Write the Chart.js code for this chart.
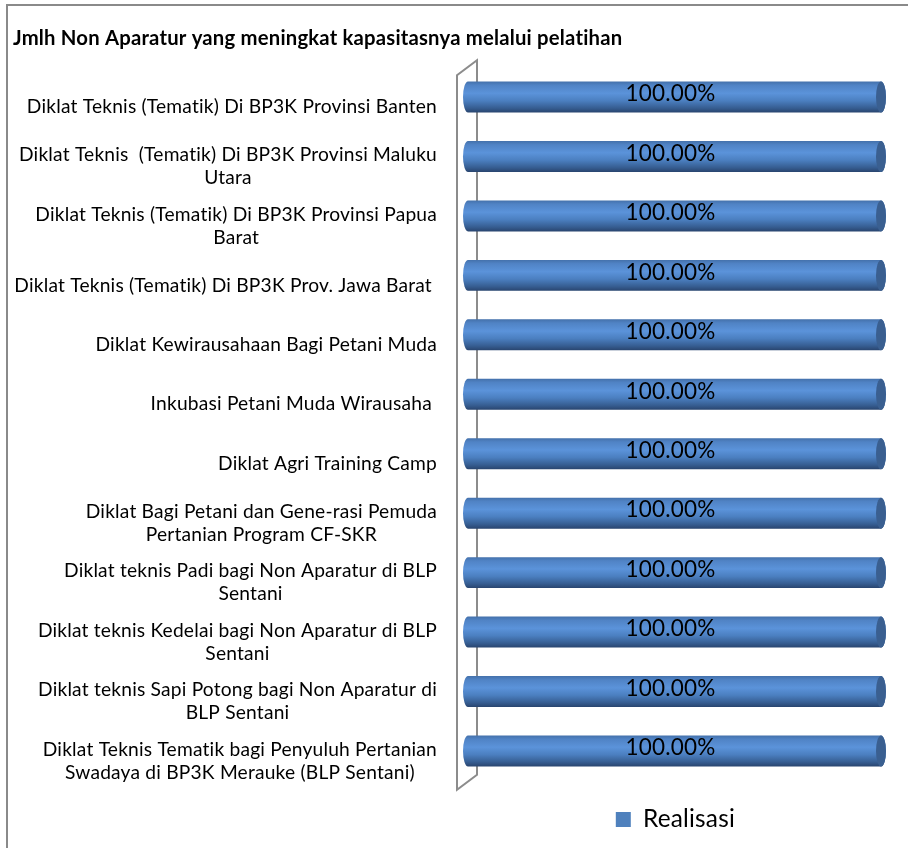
<!DOCTYPE html>
<html>
<head>
<meta charset="utf-8">
<script src="https://cdn.jsdelivr.net/npm/chart.js@4.4.1/dist/chart.umd.min.js"></script>
<style>
  html, body { margin: 0; padding: 0; background: #fff; overflow: hidden; }
  #wrap { position: relative; width: 908px; height: 848px; overflow: hidden; }
  #frame { position: absolute; left: 6px; top: 4px; width: 1000px; height: 1000px; border: 2px solid #8a8a8a; }
  #chart { position: absolute; left: 0; top: 0; }
</style>
</head>
<body>
<div id="wrap"><div id="frame"></div><canvas id="chart" width="908" height="848"></canvas></div>
<script>
(function () {
    'use strict';

    var titleText = 'Jmlh Non Aparatur yang meningkat kapasitasnya melalui pelatihan';
    var seriesName = 'Realisasi';
    var categories = [
        'Diklat Teknis (Tematik) Di BP3K Provinsi Banten',
        ['Diklat Teknis  (Tematik) Di BP3K Provinsi Maluku', 'Utara'],
        ['Diklat Teknis (Tematik) Di BP3K Provinsi Papua', 'Barat'],
        'Diklat Teknis (Tematik) Di BP3K Prov. Jawa Barat ',
        'Diklat Kewirausahaan Bagi Petani Muda',
        'Inkubasi Petani Muda Wirausaha ',
        'Diklat Agri Training Camp',
        ['Diklat Bagi Petani dan Gene-rasi Pemuda', 'Pertanian Program CF-SKR'],
        ['Diklat teknis Padi bagi Non Aparatur di BLP', 'Sentani'],
        ['Diklat teknis Kedelai bagi Non Aparatur di BLP', 'Sentani'],
        ['Diklat teknis Sapi Potong bagi Non Aparatur di', 'BLP Sentani'],
        ['Diklat Teknis Tematik bagi Penyuluh Pertanian', 'Swadaya di BP3K Merauke (BLP Sentani)']
    ];
    var realisasi = [100, 100, 100, 100, 100, 100, 100, 100, 100, 100, 100, 100];

    var FONT = 'Lato, "Open Sans", sans-serif';
    var SPACING = '0.2px'; // non-zero spacing keeps Lato from using its "ti" ligature

    // pick sizes so text widths match the picture
    function fitSize(text, weight, target) {
        var c = document.createElement('canvas').getContext('2d');
        c.letterSpacing = SPACING;
        c.font = weight + ' 100px ' + FONT;
        var w = c.measureText(text).width;
        return Math.round(1000 * (target - 0.2 * text.length) / (w - 0.2 * text.length)) / 10;
    }
    var labelSize = fitSize('Diklat Kewirausahaan Bagi Petani Muda', 'normal', 342);
    var titleSize = fitSize(titleText, 'bold', 609);
    var valueSize = fitSize('100.00%', 'normal', 90);
    var legendSize = fitSize(seriesName, 'normal', 92);

    var spacing = {
        id: 'spacing',
        beforeDraw: function (chart) { chart.ctx.letterSpacing = SPACING; }
    };

    var wall = {
        id: 'wall',
        beforeDatasetsDraw: function (chart) {
            var a = chart.chartArea, ctx = chart.ctx;
            ctx.save();
            ctx.strokeStyle = '#8c8c8c';
            ctx.lineWidth = 2;
            ctx.beginPath();
            ctx.moveTo(a.left - 6, a.bottom + 9);
            ctx.lineTo(a.left - 6, a.top + 8);
            ctx.lineTo(a.left + 14, a.top - 7);
            ctx.lineTo(a.left + 14, a.bottom - 6);
            ctx.closePath();
            ctx.stroke();
            ctx.restore();
        }
    };

    var cylinders = {
        id: 'cylinders',
        beforeDatasetDraw: function () { return false; },
        afterDatasetsDraw: function (chart) {
            var ctx = chart.ctx;
            var ds = chart.data.datasets[0];
            ctx.save();
            chart.getDatasetMeta(0).data.forEach(function (bar, i) {
                var p = bar.getProps(['x', 'y', 'base', 'height'], true);
                var h = p.height / 2, rx = 5, top = p.y - h, bot = p.y + h;
                var g = ctx.createLinearGradient(0, top, 0, bot);
                g.addColorStop(0, '#4471ab');
                g.addColorStop(0.12, '#5083c5');
                g.addColorStop(0.38, '#5b93da');
                g.addColorStop(0.62, '#4b7fc0');
                g.addColorStop(0.86, '#365d91');
                g.addColorStop(1, '#29456f');
                ctx.beginPath();
                ctx.ellipse(p.base + rx, p.y, rx, h, 0, Math.PI / 2, Math.PI * 1.5);
                ctx.lineTo(p.x - rx, top);
                ctx.ellipse(p.x - rx, p.y, rx, h, 0, -Math.PI / 2, Math.PI / 2);
                ctx.closePath();
                ctx.fillStyle = g;
                ctx.fill();
                ctx.beginPath();
                ctx.ellipse(p.x - rx, p.y, rx, h, 0, 0, Math.PI * 2);
                ctx.fillStyle = '#3a5f90';
                ctx.fill();

                ctx.fillStyle = '#000';
                ctx.font = valueSize + 'px ' + FONT;
                ctx.textAlign = 'center';
                ctx.textBaseline = 'middle';
                ctx.fillText(ds.data[i].toFixed(2) + '%', (p.base + p.x) / 2 - 4, p.y - 3);
            });
            ctx.restore();
        }
    };

    var catLabels = {
        id: 'catLabels',
        afterDraw: function (chart) {
            var y = chart.scales.y, ctx = chart.ctx;
            var right = chart.chartArea.left - 26, lh = 23;
            ctx.save();
            ctx.font = labelSize + 'px ' + FONT;
            ctx.fillStyle = '#000';
            ctx.textAlign = 'center';
            ctx.textBaseline = 'middle';
            chart.data.labels.forEach(function (lab, i) {
                var lines = [].concat(lab);
                var w = Math.max.apply(null, lines.map(function (s) { return ctx.measureText(s).width; }));
                var cy = y.getPixelForTick(i) + 10 - (lines.length - 1) * lh / 2;
                lines.forEach(function (s, k) {
                    ctx.fillText(s, right - w / 2, cy + k * lh);
                });
            });
            ctx.restore();
        }
    };

    new Chart(document.getElementById('chart'), {
        type: 'bar',
        data: {
            labels: categories,
            datasets: [{
                label: seriesName,
                data: realisasi,
                backgroundColor: '#4f81bd',
                borderWidth: 0,
                barPercentage: 0.52,
                categoryPercentage: 1
            }]
        },
        options: {
            indexAxis: 'y',
            responsive: false,
            animation: false,
            layout: { padding: { left: 13, right: 22, top: 0, bottom: 18.5 - legendSize / 2 } },
            scales: {
                x: { display: false, min: 0, max: 100 },
                y: {
                    grid: { display: false },
                    border: { display: false },
                    ticks: { display: false },
                    afterFit: function (s) { s.width = 450; }
                }
            },
            plugins: {
                title: {
                    display: true,
                    text: titleText,
                    align: 'start',
                    color: '#000',
                    font: { family: FONT, size: titleSize, weight: 'bold' },
                    padding: { top: 38 - 0.6 * titleSize, bottom: 67.3 - 38 - 0.6 * titleSize }
                },
                legend: {
                    position: 'bottom',
                    fullSize: false,
                    labels: {
                        boxWidth: 15,
                        boxHeight: 15,
                        padding: 38.8 - legendSize / 2,
                        color: '#000',
                        font: { family: FONT, size: legendSize }
                    }
                },
                tooltip: { enabled: false }
            }
        },
        plugins: [spacing, wall, cylinders, catLabels]
    });
})();
</script>
</body>
</html>
